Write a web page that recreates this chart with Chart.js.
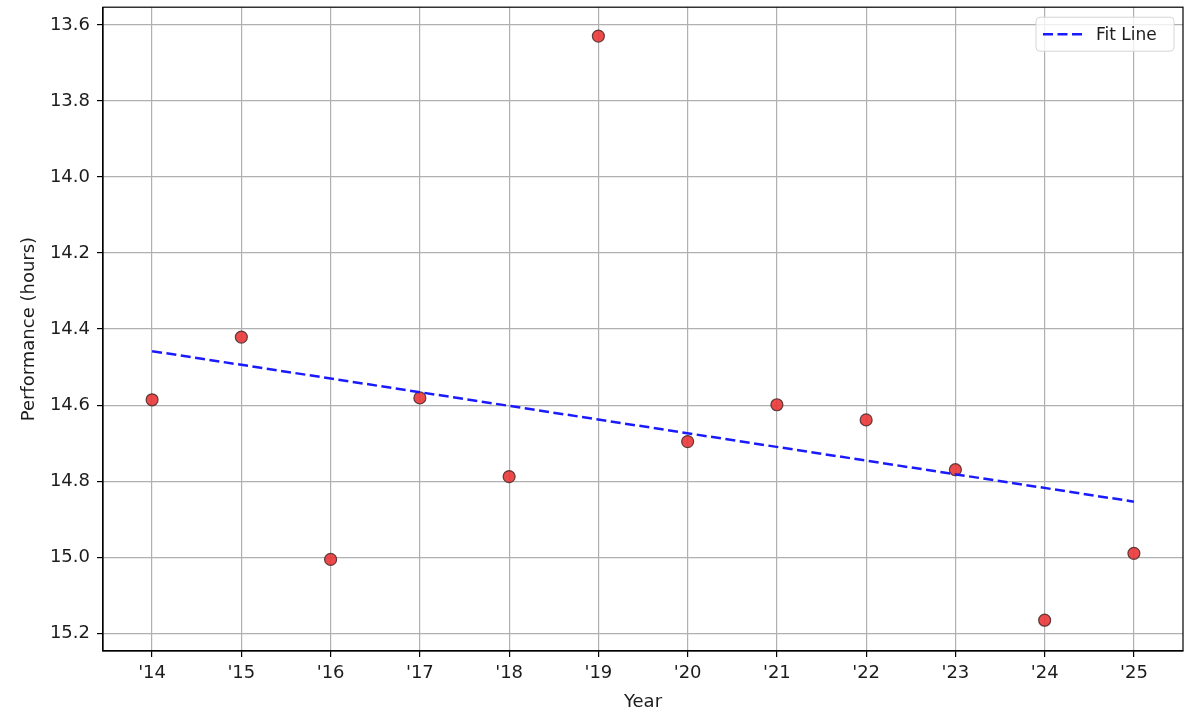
<!DOCTYPE html>
<html>
<head>
<meta charset="utf-8">
<script src="https://cdn.jsdelivr.net/npm/chart.js@4"></script>
<style>
  html, body { margin: 0; padding: 0; background: #fff; }
  #wrap { width: 1200px; height: 721px; }
</style>
</head>
<body>
<div id="wrap"><canvas id="perfChart" width="1200" height="721"></canvas></div>
<script>
// values
const years = [14, 15, 16, 17, 18, 19, 20, 21, 22, 23, 24, 25];
const performance = [14.586, 14.421, 15.006, 14.581, 14.788, 13.629, 14.696, 14.599, 14.639, 14.770, 15.166, 14.990];
const fitYears = [14, 25];
const fitValues = [14.458, 14.854];
const yTicks = [13.6, 13.8, 14.0, 14.2, 14.4, 14.6, 14.8, 15.0, 15.2];
const xTicks = years;

const FONT = 'DejaVu Sans';
const TEXT = '#1c1c1c';
const FSIZE = 18;

// frame round the plot area + legend drawn inside, like matplotlib
const framePlugin = {
  id: 'frame',
  afterDraw(chart) {
    const { ctx, chartArea: a } = chart;
    ctx.save();
    ctx.strokeStyle = '#000';
    ctx.lineWidth = 1.2;
    ctx.strokeRect(a.left, a.top, a.right - a.left, a.bottom - a.top);

    // legend box
    const w = 138, h = 34;
    const x = a.right - 9 - w, y = a.top + 10;
    ctx.beginPath();
    ctx.roundRect(x, y, w, h, 4);
    ctx.fillStyle = 'rgba(255,255,255,0.8)';
    ctx.fill();
    ctx.strokeStyle = '#d6d6d6';
    ctx.lineWidth = 1;
    ctx.stroke();

    const fit = chart.data.datasets[1];
    ctx.beginPath();
    ctx.setLineDash([10, 4.5]);
    ctx.strokeStyle = fit.borderColor;
    ctx.lineWidth = fit.borderWidth;
    ctx.moveTo(x + 7, y + h / 2);
    ctx.lineTo(x + 47, y + h / 2);
    ctx.stroke();
    ctx.setLineDash([]);

    ctx.fillStyle = TEXT;
    ctx.font = (FSIZE - 1) + 'px ' + FONT;
    ctx.textBaseline = 'middle';
    ctx.fillText(fit.label, x + 60, y + h / 2 + 1);
    ctx.restore();
  }
};

const ctx = document.getElementById('perfChart');
new Chart(ctx, {
  data: {
    datasets: [
      {
        type: 'scatter',
        label: 'Performance',
        data: years.map((yr, i) => ({ x: yr, y: performance[i] })),
        pointRadius: 6,
        pointHoverRadius: 6,
        backgroundColor: 'rgba(235,55,55,0.9)',
        borderColor: 'rgba(70,40,40,0.85)',
        borderWidth: 1.2,
        order: 2
      },
      {
        type: 'line',
        label: 'Fit Line',
        data: fitYears.map((yr, i) => ({ x: yr, y: fitValues[i] })),
        borderColor: '#1a1aff',
        borderWidth: 2.5,
        borderDash: [10, 4.5],
        pointRadius: 0,
        fill: false,
        order: 1
      }
    ]
  },
  options: {
    responsive: false,
    animation: false,
    layout: { padding: { left: 10, right: 17, top: 7, bottom: 8 } },
    plugins: {
      legend: { display: false },
      tooltip: { enabled: false }
    },
    scales: {
      x: {
        type: 'linear',
        min: 13.45,
        max: 25.55,
        afterBuildTicks: (scale) => { scale.ticks = xTicks.map(v => ({ value: v })); },
        afterFit: (scale) => { scale.height = 62; scale.paddingLeft = 0; scale.paddingRight = 0; },
        ticks: {
          autoSkip: false,
          maxRotation: 0,
          padding: 6,
          color: TEXT,
          font: { family: FONT, size: FSIZE },
          callback: (v) => "'" + v
        },
        grid: { color: '#b0b0b0', lineWidth: 1.2, tickColor: '#000', tickLength: 6, tickWidth: 1.2 },
        border: { display: true, color: '#000', width: 1.2 },
        title: {
          display: true,
          text: 'Year',
          color: TEXT,
          font: { family: FONT, size: FSIZE },
          padding: { top: 2, bottom: 0 }
        }
      },
      y: {
        type: 'linear',
        reverse: true,
        min: 13.553,
        max: 15.247,
        afterBuildTicks: (scale) => { scale.ticks = yTicks.map(v => ({ value: v })); },
        afterFit: (scale) => { scale.width = 93; scale.paddingTop = 0; scale.paddingBottom = 0; },
        ticks: {
          autoSkip: false,
          padding: 7,
          color: TEXT,
          font: { family: FONT, size: FSIZE },
          callback: (v) => v.toFixed(1)
        },
        grid: { color: '#b0b0b0', lineWidth: 1.2, tickColor: '#000', tickLength: 6, tickWidth: 1.2 },
        border: { display: true, color: '#000', width: 1.2 },
        title: {
          display: true,
          text: 'Performance (hours)',
          color: TEXT,
          font: { family: FONT, size: FSIZE },
          padding: { top: 9, bottom: 0 }
        }
      }
    }
  },
  plugins: [framePlugin]
});
</script>
</body>
</html>
